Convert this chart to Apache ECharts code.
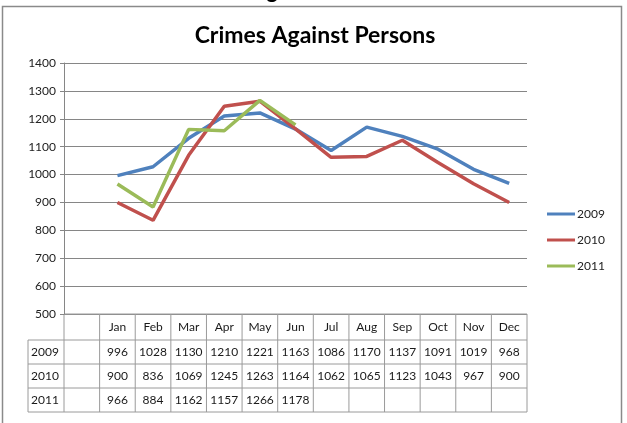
<!DOCTYPE html>
<html>
<head>
<meta charset="utf-8">
<script src="https://cdn.jsdelivr.net/npm/echarts@6/dist/echarts.min.js"></script>
<style>
  html, body { margin: 0; padding: 0; background: #fff; }
  #chart { width: 627px; height: 423px; }
</style>
</head>
<body>
<div id="chart"></div>
<script>
// 数据
const months = ['', 'Jan', 'Feb', 'Mar', 'Apr', 'May', 'Jun', 'Jul', 'Aug', 'Sep', 'Oct', 'Nov', 'Dec'];
const years = ['2009', '2010', '2011'];
const s2009 = [null, 996, 1028, 1130, 1210, 1221, 1163, 1086, 1170, 1137, 1091, 1019, 968];
const s2010 = [null, 900, 836, 1069, 1245, 1263, 1164, 1062, 1065, 1123, 1043, 967, 900];
const s2011 = [null, 966, 884, 1162, 1157, 1266, 1178, null, null, null, null, null, null];
const yTicks = [500, 600, 700, 800, 900, 1000, 1100, 1200, 1300, 1400];

const colors = ['#4F81BD', '#C0504D', '#9BBB59'];
const font = 'Lato, "Open Sans", sans-serif';

const chart = echarts.init(document.getElementById('chart'));

function line(name, data, color) {
    return {
        name: name,
        type: 'line',
        data: data,
        showSymbol: false,
        symbol: 'none',
        connectNulls: false,
        color: color,
        lineStyle: { width: 3.5, color: color },
        z: 5
    };
}

chart.setOption({
    animation: false,
    title: {
        text: 'Crimes Against Persons',
        left: 310,
        textAlign: 'center',
        top: 19,
        textStyle: { fontFamily: font, fontSize: 23, fontWeight: 'bold', color: '#000' }
    },
    legend: {
        orient: 'vertical',
        left: 547,
        top: 208,
        padding: 0,
        itemWidth: 28,
        itemHeight: 3,
        itemGap: 14,
        icon: 'rect',
        data: years,
        textStyle: { fontFamily: font, fontSize: 12, color: '#222', padding: [0, 0, 0, -3] }
    },
    grid: { left: 64, right: 100, top: 63, bottom: 109 },
    xAxis: {
        type: 'category',
        data: months,
        boundaryGap: true,
        axisLine: { show: false },
        axisTick: { show: false },
        axisLabel: { show: false }
    },
    yAxis: {
        type: 'value',
        min: yTicks[0],
        max: yTicks[yTicks.length - 1],
        interval: 100,
        axisLine: { show: true, lineStyle: { color: '#868686', width: 1 } },
        axisTick: { show: true, length: 4, lineStyle: { color: '#868686' } },
        axisLabel: { fontFamily: font, fontSize: 12, color: '#222', margin: 8, formatter: v => String(v) },
        splitLine: { lineStyle: { color: '#868686', width: 1 } }
    },
    series: [
        line('2009', s2009, colors[0]),
        line('2010', s2010, colors[1]),
        line('2011', s2011, colors[2])
    ]
});

// 数据表格
function buildTable() {
    const xs = months.map((m, i) => chart.convertToPixel({ xAxisIndex: 0 }, i));
    const w = xs[1] - xs[0];
    const left = xs[0] - w / 2;
    const right = xs[xs.length - 1] + w / 2;
    const headLeft = 28;
    const rows = [314, 340, 364, 388, 412];
    const stroke = { stroke: '#9a9a9a', lineWidth: 1 };
    const textStyle = { fontFamily: font, fontSize: 12, fill: '#1a1a1a' };
    const els = [];

    // 横线
    els.push({ type: 'line', shape: { x1: left, y1: rows[0], x2: right, y2: rows[0] }, style: stroke });
    for (let r = 1; r < rows.length; r++) {
        els.push({ type: 'line', shape: { x1: headLeft, y1: rows[r], x2: right, y2: rows[r] }, style: stroke });
    }
    // 竖线
    els.push({ type: 'line', shape: { x1: headLeft, y1: rows[1], x2: headLeft, y2: rows[4] }, style: stroke });
    for (let i = 0; i <= months.length; i++) {
        const x = left + i * w;
        els.push({ type: 'line', shape: { x1: x, y1: rows[0], x2: x, y2: rows[4] }, style: stroke });
    }
    // 月份
    months.forEach((m, i) => {
        if (!m) return;
        els.push({
            type: 'text', x: xs[i], y: (rows[0] + rows[1]) / 2,
            style: Object.assign({ text: m, align: 'center', verticalAlign: 'middle' }, textStyle)
        });
    });
    // 数值
    [s2009, s2010, s2011].forEach((arr, r) => {
        const cy = (rows[r + 1] + rows[r + 2]) / 2;
        els.push({
            type: 'text', x: headLeft + 3, y: cy,
            style: Object.assign({ text: years[r], align: 'left', verticalAlign: 'middle' }, textStyle)
        });
        arr.forEach((v, i) => {
            if (v == null) return;
            els.push({
                type: 'text', x: xs[i], y: cy,
                style: Object.assign({ text: String(v), align: 'center', verticalAlign: 'middle' }, textStyle)
            });
        });
    });
    // 外框
    els.push({
        type: 'rect', shape: { x: 2.5, y: 6.5, width: 619, height: 440 },
        style: { fill: null, stroke: '#8a8a8a', lineWidth: 1.5 }, silent: true
    });
    // 上方被截断的文字
    els.push({
        type: 'text', x: 272, y: -20,
        style: { text: 'g', align: 'center', fontFamily: font, fontSize: 22, fontWeight: 'bold', fill: '#000' }
    });
    chart.setOption({ graphic: { elements: els } });
}
buildTable();
</script>
</body>
</html>
